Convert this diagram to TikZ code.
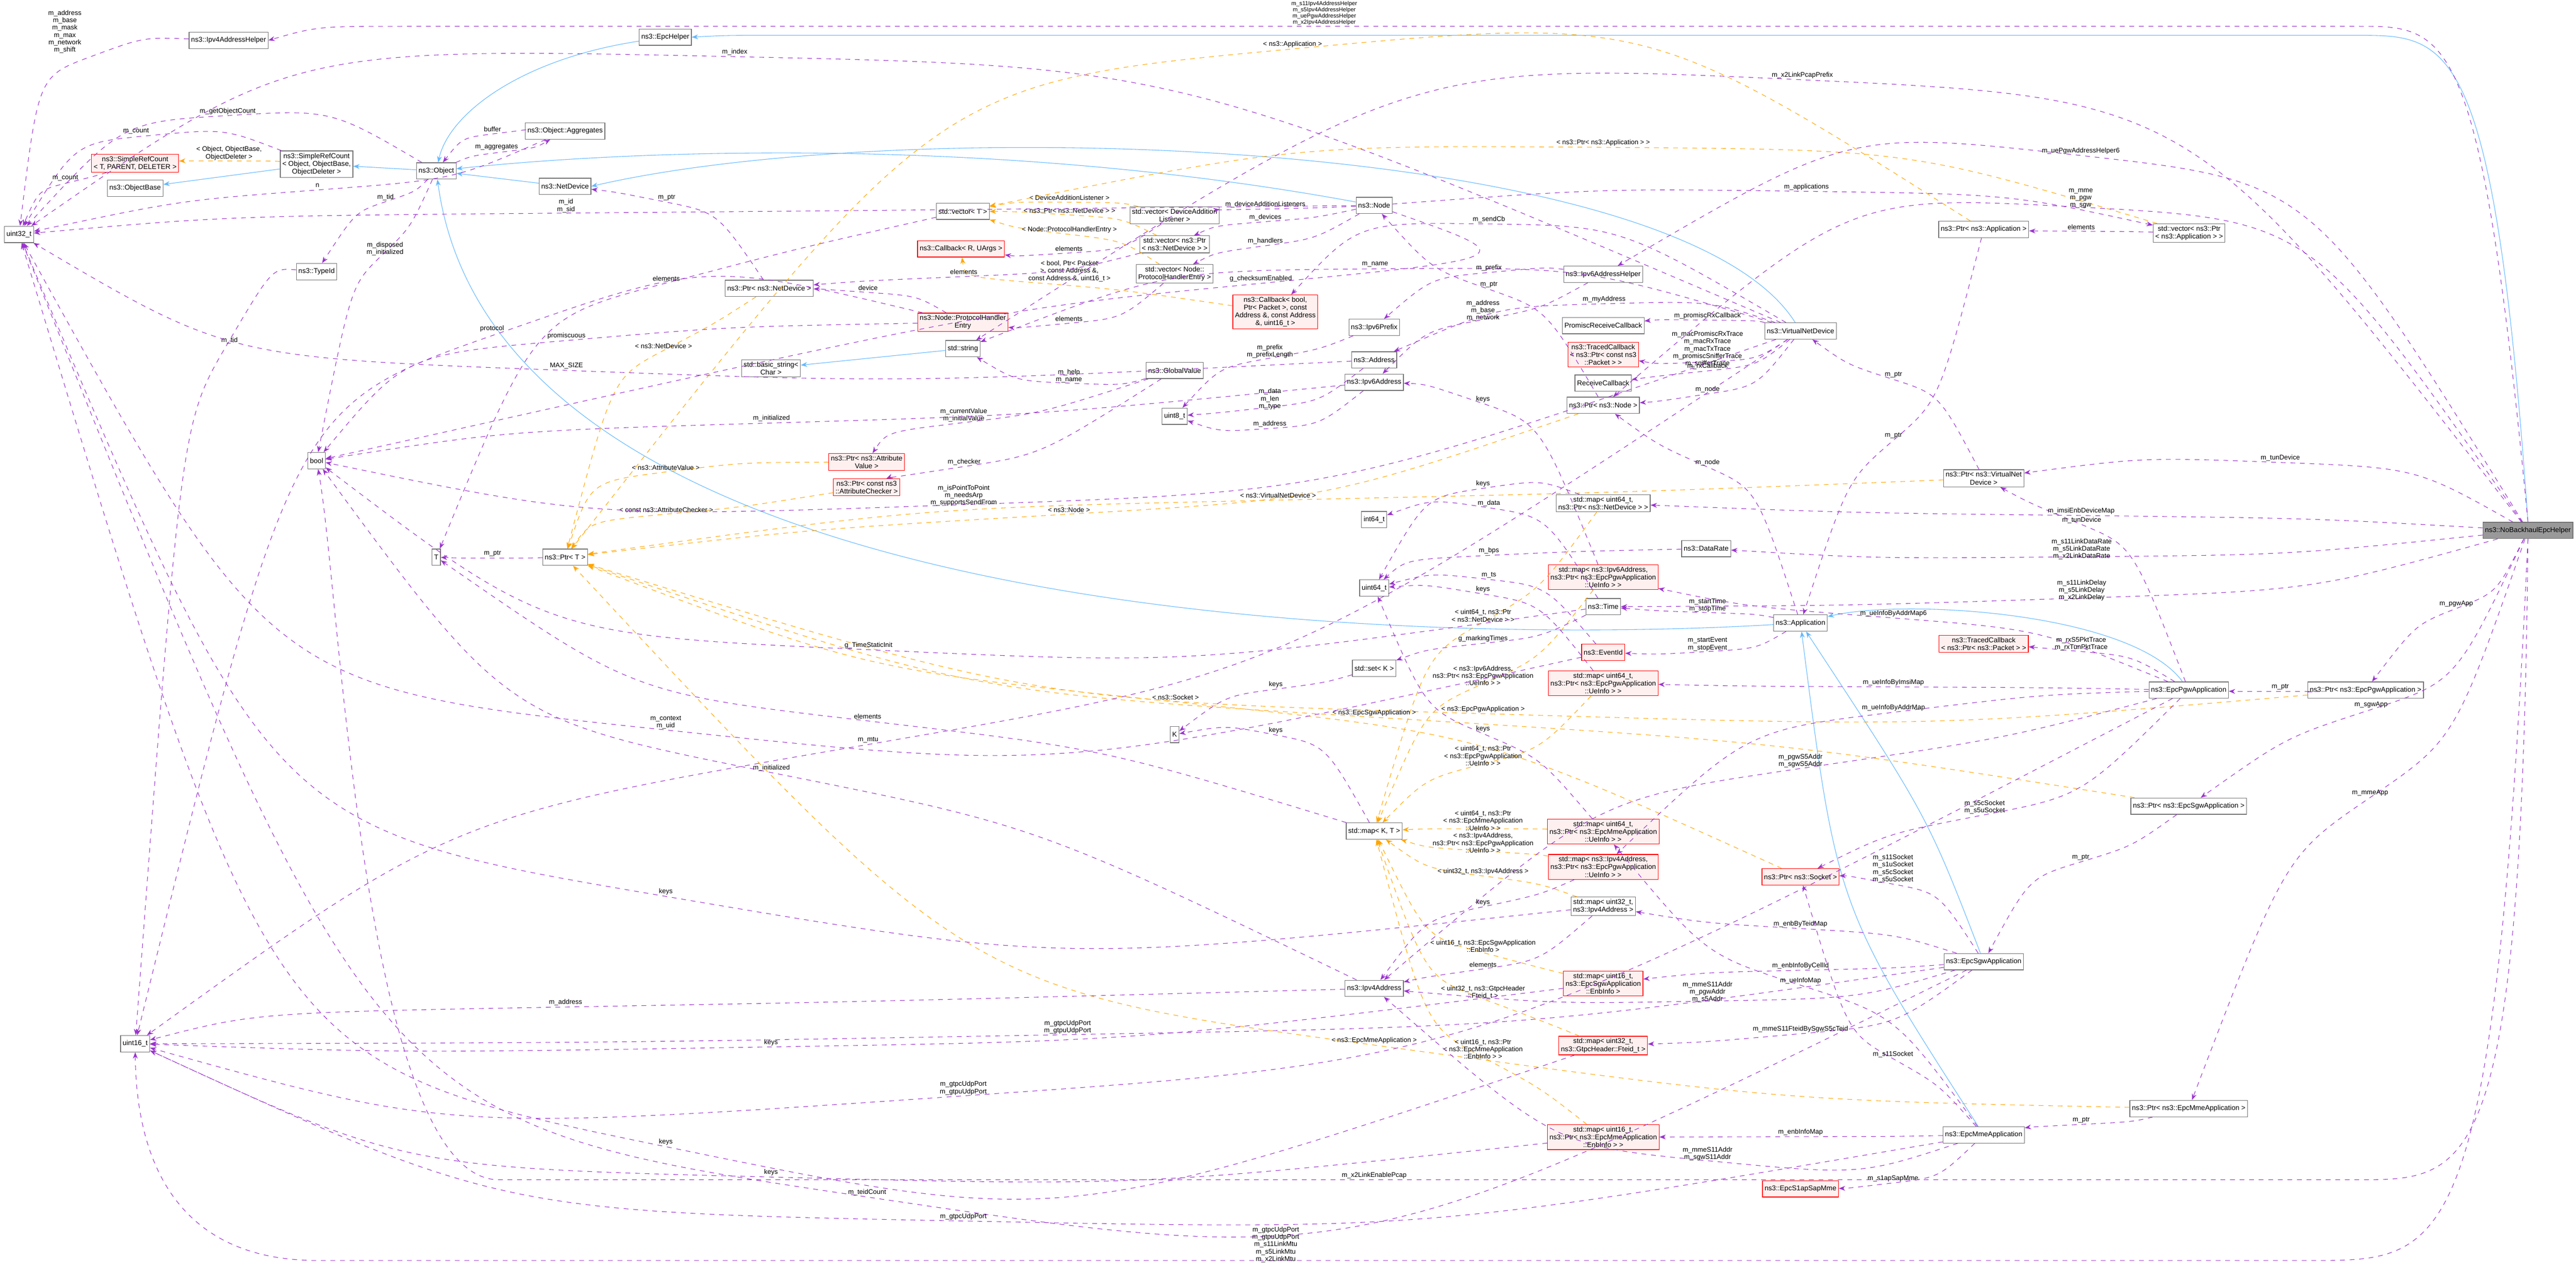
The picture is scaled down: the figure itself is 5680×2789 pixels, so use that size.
\documentclass[tikz,border=0pt]{standalone}
\usepackage{fontspec}
\setmainfont{Liberation Sans}
\usetikzlibrary{calc,arrows.meta}

\definecolor{memc}{HTML}{9A32CD}
\definecolor{inhc}{HTML}{63B8FF}
\definecolor{tmpc}{HTML}{FFA500}

\tikzset{
  cls/.style={draw=black!55, fill=white, align=center, inner sep=1.3pt,
    minimum height=0.36cm, font=\fontsize{4.4}{4.9}\selectfont},
  redcls/.style={cls, draw=red, fill=red!6},
  maincls/.style={cls, fill=black!40},
  lbl/.style={align=center, inner sep=0pt, font=\fontsize{4.2}{4.6}\selectfont},
  mem/.style={-{Stealth[length=4pt,width=3pt]}, draw=memc, dashed, line width=0.35pt},
  inh/.style={-{Stealth[length=4pt,width=3pt]}, draw=inhc, line width=0.35pt},
  tmpl/.style={-{Stealth[length=4pt,width=3pt]}, draw=tmpc, dashed, line width=0.35pt}
}

% link from #2 to #4 through #3, label #6 at #5
\newcommand{\lnk}[6]{%
  \draw[#1] let \p1=($(#4)-(#2)$) in
    (#2) .. controls ($(#3)-(0.25*\x1,0.1*\y1)$) .. (#3)
    .. controls ($(#3)+(0.25*\x1,0.1*\y1)$) .. (#4);
  \node[lbl] at (#5) {#6};}

\begin{document}
\begin{tikzpicture}[x=0.01cm, y=-0.01cm]
\useasboundingbox (0,0) rectangle (5680,2789);

% Nodes
\node (u32) [cls] at (42,517) {uint32\_t};
\node (ipv4h) [cls] at (504,89) {ns3::Ipv4AddressHelper};
\node (srcT) [redcls] at (298,360) {ns3::SimpleRefCount\\< T, PARENT, DELETER >};
\node (objbase) [cls] at (298,415) {ns3::ObjectBase};
\node (srcObj) [cls] at (698,362) {ns3::SimpleRefCount\\< Object, ObjectBase,\\ObjectDeleter >};
\node (object) [cls] at (962,377) {ns3::Object};
\node (aggr) [cls] at (1246,289) {ns3::Object::Aggregates};
\node (netdev) [cls] at (1246,411) {ns3::NetDevice};
\node (typeid) [cls] at (698,599) {ns3::TypeId};
\node (epch) [cls] at (1467,82) {ns3::EpcHelper};
\node (vecT) [cls] at (2123,466) {std::vector< T >};
\node (vecDAL) [cls] at (2590,475) {std::vector< DeviceAddition\\Listener >};
\node (vecPND) [cls] at (2590,539) {std::vector< ns3::Ptr\\< ns3::NetDevice > >};
\node (vecPHE) [cls] at (2590,604) {std::vector< Node::\\ProtocolHandlerEntry >};
\node (cbR) [redcls] at (2119,549) {ns3::Callback< R, UArgs >};
\node (ptrND) [cls] at (1696,636) {ns3::Ptr< ns3::NetDevice >};
\node (phe) [redcls] at (2123,711) {ns3::Node::ProtocolHandler\\Entry};
\node (str) [cls] at (2123,769) {std::string};
\node (bstr) [cls] at (1700,812) {std::basic\_string<\\Char >};
\node (gv) [cls] at (2590,817) {ns3::GlobalValue};
\node (u8) [cls] at (2590,918) {uint8\_t};
\node (ptrAV) [redcls] at (1911,1019) {ns3::Ptr< ns3::Attribute\\Value >};
\node (ptrAC) [redcls] at (1911,1075) {ns3::Ptr< const ns3\\::AttributeChecker >};
\node (node) [cls] at (3030,453) {ns3::Node};
\node (cbB) [redcls] at (2812,688) {ns3::Callback< bool,\\Ptr< Packet >, const\\Address \&, const Address\\\&, uint16\_t >};
\node (ipv6h) [cls] at (3535,605) {ns3::Ipv6AddressHelper};
\node (ipv6p) [cls] at (3030,722) {ns3::Ipv6Prefix};
\node (addr) [cls] at (3030,794) {ns3::Address};
\node (ipv6a) [cls] at (3030,843) {ns3::Ipv6Address};
\node (prcb) [cls] at (3535,718) {PromiscReceiveCallback};
\node (tcbC) [redcls] at (3535,782) {ns3::TracedCallback\\< ns3::Ptr< const ns3\\::Packet > >};
\node (rcb) [cls] at (3535,845) {ReceiveCallback};
\node (ptrNode) [cls] at (3535,894) {ns3::Ptr< ns3::Node >};
\node (vnd) [cls] at (3970,730) {ns3::VirtualNetDevice};
\node (mapND) [cls] at (3535,1110) {std::map< uint64\_t,\\ns3::Ptr< ns3::NetDevice > >};
\node (i64) [cls] at (3030,1146) {int64\_t};
\node (dr) [cls] at (3762,1210) {ns3::DataRate};
\node (mapV6) [redcls] at (3535,1273) {std::map< ns3::Ipv6Address,\\ns3::Ptr< ns3::EpcPgwApplication\\::UeInfo > >};
\node (u64) [cls] at (3030,1297) {uint64\_t};
\node (time) [cls] at (3535,1338) {ns3::Time};
\node (app) [cls] at (3970,1374) {ns3::Application};
\node (ev) [redcls] at (3535,1439) {ns3::EventId};
\node (setK) [cls] at (3030,1474) {std::set< K >};
\node (mapPgwI) [redcls] at (3535,1507) {std::map< uint64\_t,\\ns3::Ptr< ns3::EpcPgwApplication\\::UeInfo > >};
\node (K) [cls] at (2590,1620) {K};
\node (bool) [cls] at (698,1016) {bool};
\node (T) [cls] at (962,1229) {T};
\node (ptrT) [cls] at (1246,1229) {ns3::Ptr< T >};
\node (mapKT) [cls] at (3030,1833) {std::map< K, T >};
\node (mapMmeU) [redcls] at (3535,1834) {std::map< uint64\_t,\\ns3::Ptr< ns3::EpcMmeApplication\\::UeInfo > >};
\node (mapV4) [redcls] at (3535,1912) {std::map< ns3::Ipv4Address,\\ns3::Ptr< ns3::EpcPgwApplication\\::UeInfo > >};
\node (ptrSock) [redcls] at (3970,1934) {ns3::Ptr< ns3::Socket >};
\node (mapU32) [cls] at (3535,1999) {std::map< uint32\_t,\\ns3::Ipv4Address >};
\node (mapSgwE) [redcls] at (3535,2169) {std::map< uint16\_t,\\ns3::EpcSgwApplication\\::EnbInfo >};
\node (ipv4a) [cls] at (3030,2180) {ns3::Ipv4Address};
\node (mapFteid) [redcls] at (3535,2306) {std::map< uint32\_t,\\ns3::GtpcHeader::Fteid\_t >};
\node (mapMmeE) [redcls] at (3535,2508) {std::map< uint16\_t,\\ns3::Ptr< ns3::EpcMmeApplication\\::EnbInfo > >};
\node (s1ap) [redcls] at (3970,2622) {ns3::EpcS1apSapMme};
\node (u16) [cls] at (298,2302) {uint16\_t};
\node (ptrApp) [cls] at (4374,506) {ns3::Ptr< ns3::Application >};
\node (vecApp) [cls] at (4827,514) {std::vector< ns3::Ptr\\< ns3::Application > >};
\node (ptrVND) [cls] at (4374,1055) {ns3::Ptr< ns3::VirtualNet\\Device >};
\node (nbh) [maincls] at (5574,1170) {ns3::NoBackhaulEpcHelper};
\node (tcbP) [redcls] at (4374,1420) {ns3::TracedCallback\\< ns3::Ptr< ns3::Packet > >};
\node (pgw) [cls] at (4826,1522) {ns3::EpcPgwApplication};
\node (ptrPgw) [cls] at (5216,1522) {ns3::Ptr< ns3::EpcPgwApplication >};
\node (ptrSgw) [cls] at (4826,1778) {ns3::Ptr< ns3::EpcSgwApplication >};
\node (sgw) [cls] at (4374,2121) {ns3::EpcSgwApplication};
\node (ptrMme) [cls] at (4826,2445) {ns3::Ptr< ns3::EpcMmeApplication >};
\node (mme) [cls] at (4374,2503) {ns3::EpcMmeApplication};

% Inheritance
\draw[inh] (srcObj) -- (objbase);
\draw[inh] (object) -- (srcObj);
\draw[inh] (netdev) -- (object);
\draw[inh] (node) .. controls (2200,300) and (1400,330) .. (object);
\draw[inh] (vnd) .. controls (3700,300) and (2000,250) .. (netdev.east);
\draw[inh] (epch) .. controls (1150,130) and (990,250) .. (object);
\draw[inh] (nbh.north) .. controls (5500,80) and (5400,78) .. (5200,78) -- (1700,78) .. controls (1600,78) .. (epch.east);
\draw[inh] (app) .. controls (3200,1420) and (1100,1400) .. (object);
\draw[inh] (pgw) .. controls (4700,1350) and (4200,1320) .. (app);
\draw[inh] (sgw) .. controls (4250,1800) .. (app);
\draw[inh] (mme) .. controls (4050,2000) .. (app);
\draw[inh] (str) -- (bstr);

% Templates
\lnk{tmpl}{srcObj}{505,355}{srcT}{505,338}{< Object, ObjectBase,\\ObjectDeleter >}
\lnk{tmpl}{vecDAL}{2358,446}{vecT}{2358,436}{< DeviceAdditionListener >}
\lnk{tmpl}{vecPND}{2358,474}{vecT}{2358,464}{< ns3::Ptr< ns3::NetDevice > >}
\lnk{tmpl}{vecPHE}{2358,517}{vecT}{2358,507}{< Node::ProtocolHandlerEntry >}
\lnk{tmpl}{cbB}{2300,625}{cbR}{2358,598}{< bool, Ptr< Packet\\>, const Address \&,\\const Address \&, uint16\_t >}
\lnk{tmpl}{ptrND}{1463,773}{ptrT}{1463,763}{< ns3::NetDevice >}
\lnk{tmpl}{ptrAV}{1468,1041}{ptrT}{1468,1031}{< ns3::AttributeValue >}
\lnk{tmpl}{ptrAC}{1469,1134}{ptrT}{1469,1124}{< const ns3::AttributeChecker >}
\lnk{tmpl}{ptrNode}{2357,1134}{ptrT}{2357,1124}{< ns3::Node >}
\lnk{tmpl}{ptrVND}{2818,1103}{ptrT}{2818,1093}{< ns3::VirtualNetDevice >}
\lnk{tmpl}{ptrSock}{2592,1548}{ptrT}{2592,1538}{< ns3::Socket >}
\lnk{tmpl}{ptrPgw}{3270,1574}{ptrT}{3270,1564}{< ns3::EpcPgwApplication >}
\lnk{tmpl}{ptrSgw}{3030,1582}{ptrT}{3030,1572}{< ns3::EpcSgwApplication >}
\lnk{tmpl}{ptrMme}{3030,2305}{ptrT}{3030,2295}{< ns3::EpcMmeApplication >}
\lnk{tmpl}{ptrApp}{2850,108}{ptrT}{2850,98}{< ns3::Application >}
\lnk{tmpl}{vecApp}{3535,325}{vecT}{3535,315}{< ns3::Ptr< ns3::Application > >}
\lnk{tmpl}{mapND}{3270,1372}{mapKT}{3270,1358}{< uint64\_t, ns3::Ptr\\< ns3::NetDevice > >}
\lnk{tmpl}{mapV6}{3270,1508}{mapKT}{3270,1490}{< ns3::Ipv6Address,\\ns3::Ptr< ns3::EpcPgwApplication\\::UeInfo > >}
\lnk{tmpl}{mapPgwI}{3270,1685}{mapKT}{3270,1667}{< uint64\_t, ns3::Ptr\\< ns3::EpcPgwApplication\\::UeInfo > >}
\lnk{tmpl}{mapMmeU}{3270,1828}{mapKT}{3270,1810}{< uint64\_t, ns3::Ptr\\< ns3::EpcMmeApplication\\::UeInfo > >}
\lnk{tmpl}{mapV4}{3270,1877}{mapKT}{3270,1859}{< ns3::Ipv4Address,\\ns3::Ptr< ns3::EpcPgwApplication\\::UeInfo > >}
\lnk{tmpl}{mapU32}{3270,1932}{mapKT}{3270,1922}{< uint32\_t, ns3::Ipv4Address >}
\lnk{tmpl}{mapSgwE}{3270,2101}{mapKT}{3270,2087}{< uint16\_t, ns3::EpcSgwApplication\\::EnbInfo >}
\lnk{tmpl}{mapFteid}{3270,2203}{mapKT}{3270,2189}{< uint32\_t, ns3::GtpcHeader\\::Fteid\_t >}
\lnk{tmpl}{mapMmeE}{3270,2332}{mapKT}{3270,2314}{< uint16\_t, ns3::Ptr\\< ns3::EpcMmeApplication\\::EnbInfo > >}

% Members, left part
\lnk{mem}{ipv4h}{200,125}{u32}{143,70}{m\_address\\m\_base\\m\_mask\\m\_max\\m\_network\\m\_shift}
\lnk{mem}{object}{500,255}{u32}{502,245}{m\_getObjectCount}
\lnk{mem}{srcObj}{330,299}{u32}{300,289}{m\_count}
\lnk{mem}{srcT}{150,403}{u32}{144,393}{m\_count}
\lnk{mem}{aggr}{1090,295}{object}{1086,285}{buffer}
\lnk{mem}{object}{1110,335}{aggr}{1095,325}{m\_aggregates}
\lnk{mem}{aggr}{700,419}{u32}{700,409}{n}
\lnk{mem}{node}{1250,470}{u32}{1248,454}{m\_id\\m\_sid}
\lnk{mem}{object}{850,445}{typeid}{850,435}{m\_tid}
\lnk{mem}{object}{840,565}{bool}{849,549}{m\_disposed\\m\_initialized}
\lnk{mem}{typeid}{500,761}{u16}{506,751}{m\_tid}
\lnk{mem}{phe}{1100,735}{u16}{1085,725}{protocol}
\lnk{mem}{phe}{1250,751}{bool}{1249,741}{promiscuous}
\lnk{mem}{addr}{1250,817}{u32}{1249,807}{MAX\_SIZE}
\lnk{mem}{vnd}{1620,125}{u32}{1620,115}{m\_index}
\lnk{mem}{ptrND}{1470,446}{netdev}{1470,436}{m\_ptr}
\lnk{mem}{vecT}{1470,624}{T}{1469,614}{elements}
\lnk{mem}{vecPND}{2125,610}{ptrND}{2125,600}{elements}
\lnk{mem}{phe}{1915,645}{ptrND}{1914,635}{device}
\lnk{mem}{vecDAL}{2357,558}{cbR}{2357,548}{elements}
\lnk{mem}{vecPHE}{2357,713}{phe}{2357,703}{elements}
\lnk{mem}{node}{2790,461}{vecDAL}{2790,451}{m\_deviceAdditionListeners}
\lnk{mem}{node}{2790,489}{vecPND}{2790,479}{m\_devices}
\lnk{mem}{node}{2790,542}{vecPHE}{2790,532}{m\_handlers}
\lnk{mem}{node}{2780,625}{bool}{2780,615}{g\_checksumEnabled}
\lnk{mem}{gv}{2357,845}{str}{2357,829}{m\_help\\m\_name}
\lnk{mem}{gv}{2125,932}{ptrAV}{2125,916}{m\_currentValue\\m\_initialValue}
\lnk{mem}{gv}{2126,1029}{ptrAC}{2126,1019}{m\_checker}
\lnk{mem}{ptrT}{1086,1231}{T}{1086,1221}{m\_ptr}
\lnk{mem}{ipv6a}{1701,933}{bool}{1701,923}{m\_initialized}
\lnk{mem}{ipv4a}{1701,1704}{bool}{1701,1694}{m\_initialized}

% Members, middle part
\lnk{mem}{vnd}{3283,494}{cbB}{3283,484}{m\_sendCb}
\lnk{mem}{vnd}{3032,593}{str}{3032,583}{m\_name}
\lnk{mem}{ipv6h}{3283,601}{ipv6p}{3283,591}{m\_prefix}
\lnk{mem}{ptrNode}{3283,638}{node}{3283,628}{m\_ptr}
\lnk{mem}{ipv6h}{3270,705}{ipv6a}{3270,685}{m\_address\\m\_base\\m\_network}
\lnk{mem}{vnd}{3537,670}{addr}{3537,660}{m\_myAddress}
\lnk{mem}{vnd}{3765,706}{prcb}{3765,696}{m\_promiscRxCallback}
\lnk{mem}{vnd}{3765,798}{tcbC}{3765,770}{m\_macPromiscRxTrace\\m\_macRxTrace\\m\_macTxTrace\\m\_promiscSnifferTrace\\m\_snifferTrace}
\lnk{mem}{vnd}{3765,818}{rcb}{3765,808}{m\_rxCallback}
\lnk{mem}{vnd}{3765,869}{ptrNode}{3765,859}{m\_node}
\lnk{mem}{vnd}{2125,1113}{bool}{2125,1093}{m\_isPointToPoint\\m\_needsArp\\m\_supportsSendFrom}
\lnk{mem}{vnd}{1914,1642}{u16}{1914,1632}{m\_mtu}
\lnk{mem}{ipv6p}{2800,790}{u8}{2800,775}{m\_prefix\\m\_prefixLength}
\lnk{mem}{addr}{2800,898}{u8}{2800,880}{m\_data\\m\_len\\m\_type}
\lnk{mem}{ipv6a}{2800,945}{u8}{2800,935}{m\_address}
\lnk{mem}{app}{3765,1030}{ptrNode}{3765,1020}{m\_node}
\lnk{mem}{app}{3765,1351}{time}{3765,1335}{m\_startTime\\m\_stopTime}
\lnk{mem}{app}{3765,1437}{ev}{3765,1421}{m\_startEvent\\m\_stopEvent}
\lnk{mem}{ev}{3283,1278}{u64}{3283,1268}{m\_ts}
\lnk{mem}{dr}{3283,1225}{u64}{3283,1215}{m\_bps}
\lnk{mem}{time}{3283,1120}{i64}{3283,1110}{m\_data}
\lnk{mem}{time}{3270,1419}{setK}{3270,1409}{g\_markingTimes}
\lnk{mem}{time}{1915,1433}{bool}{1915,1423}{g\_TimeStaticInit}
\lnk{mem}{ev}{1468,1610}{u32}{1468,1593}{m\_context\\m\_uid}
\lnk{mem}{mapV6}{3270,890}{ipv6a}{3270,880}{keys}
\lnk{mem}{mapND}{3270,1077}{u64}{3270,1067}{keys}
\lnk{mem}{mapPgwI}{3270,1310}{u64}{3270,1300}{keys}
\lnk{mem}{setK}{2813,1520}{K}{2813,1510}{keys}
\lnk{mem}{mapKT}{2813,1621}{K}{2813,1611}{keys}
\lnk{mem}{mapMmeU}{3270,1618}{u64}{3270,1608}{keys}
\lnk{mem}{mapKT}{1913,1590}{T}{1913,1580}{elements}
\lnk{mem}{mapU32}{1468,1977}{u32}{1468,1967}{keys}
\lnk{mem}{mapV4}{3270,2000}{ipv4a}{3270,1990}{keys}
\lnk{mem}{mapU32}{3270,2137}{ipv4a}{3270,2127}{elements}
\lnk{mem}{ipv4a}{1247,2221}{u16}{1247,2211}{m\_address}
\lnk{mem}{mapSgwE}{1700,2309}{u16}{1700,2299}{keys}
\lnk{mem}{mapFteid}{1468,2529}{u32}{1468,2519}{keys}
\lnk{mem}{mapMmeE}{1700,2596}{u16}{1700,2586}{keys}

% Members, right part
\draw[mem] (nbh.north) .. controls (5470,60) and (5400,58) .. (5200,58) -- (900,58) .. controls (700,58) .. (ipv4h.east);
\node[lbl, font=\fontsize{3.6}{3.9}\selectfont] at (2920,29) {m\_s11Ipv4AddressHelper\\m\_s5Ipv4AddressHelper\\m\_uePgwAddressHelper\\m\_x2Ipv4AddressHelper};
\lnk{mem}{nbh}{3974,176}{str}{3974,166}{m\_x2LinkPcapPrefix}
\lnk{mem}{nbh}{4588,343}{ipv6h}{4588,333}{m\_uePgwAddressHelper6}
\lnk{mem}{nbh}{4588,457}{ptrNode}{4588,438}{m\_mme\\m\_pgw\\m\_sgw}
\lnk{mem}{node}{3983,422}{vecApp}{3983,412}{m\_applications}
\lnk{mem}{vecApp}{4589,510}{ptrApp}{4589,501}{elements}
\lnk{mem}{ptrVND}{4175,837}{vnd}{4175,827}{m\_ptr}
\lnk{mem}{ptrApp}{4175,971}{app}{4175,961}{m\_ptr}
\lnk{mem}{nbh}{5028,1020}{ptrVND}{5028,1010}{m\_tunDevice}
\lnk{mem}{pgw}{4590,1157}{ptrVND}{4590,1147}{m\_tunDevice}
\lnk{mem}{nbh}{4589,1137}{mapND}{4589,1127}{m\_imsiEnbDeviceMap}
\lnk{mem}{nbh}{4590,1228}{dr}{4590,1211}{m\_s11LinkDataRate\\m\_s5LinkDataRate\\m\_x2LinkDataRate}
\lnk{mem}{nbh}{4590,1319}{time}{4590,1302}{m\_s11LinkDelay\\m\_s5LinkDelay\\m\_x2LinkDelay}
\lnk{mem}{pgw}{4175,1363}{mapV6}{4175,1353}{m\_ueInfoByAddrMap6}
\lnk{mem}{pgw}{4589,1437}{tcbP}{4589,1420}{m\_rxS5PktTrace\\m\_rxTunPktTrace}
\lnk{mem}{pgw}{4175,1515}{mapPgwI}{4175,1505}{m\_ueInfoByImsiMap}
\lnk{mem}{pgw}{4175,1571}{mapV4}{4175,1561}{m\_ueInfoByAddrMap}
\lnk{mem}{pgw}{3970,1695}{ipv4a}{3970,1678}{m\_pgwS5Addr\\m\_sgwS5Addr}
\lnk{mem}{pgw}{4376,1797}{ptrSock}{4376,1780}{m\_s5cSocket\\m\_s5uSocket}
\lnk{mem}{ptrPgw}{5028,1525}{pgw}{5028,1515}{m\_ptr}
\lnk{mem}{nbh}{5416,1342}{ptrPgw}{5416,1332}{m\_pgwApp}
\lnk{mem}{nbh}{5228,1565}{ptrSgw}{5228,1555}{m\_sgwApp}
\lnk{mem}{nbh}{5226,1759}{ptrMme}{5226,1749}{m\_mmeApp}
\lnk{mem}{ptrSgw}{4588,1901}{sgw}{4588,1891}{m\_ptr}
\lnk{mem}{ptrMme}{4589,2480}{mme}{4589,2470}{m\_ptr}
\lnk{mem}{sgw}{4174,1950}{ptrSock}{4174,1916}{m\_s11Socket\\m\_s1uSocket\\m\_s5cSocket\\m\_s5uSocket}
\lnk{mem}{sgw}{3970,2048}{mapU32}{3970,2038}{m\_enbByTeidMap}
\lnk{mem}{sgw}{3970,2140}{mapSgwE}{3970,2130}{m\_enbInfoByCellId}
\lnk{mem}{mme}{3970,2173}{mapMmeU}{3970,2163}{m\_ueInfoMap}
\lnk{mem}{sgw}{3765,2208}{ipv4a}{3765,2188}{m\_mmeS11Addr\\m\_pgwAddr\\m\_s5Addr}
\lnk{mem}{sgw}{3970,2280}{mapFteid}{3970,2270}{m\_mmeS11FteidBySgwS5cTeid}
\lnk{mem}{mme}{4174,2335}{ptrSock}{4174,2325}{m\_s11Socket}
\lnk{mem}{mme}{3970,2507}{mapMmeE}{3970,2497}{m\_enbInfoMap}
\lnk{mem}{mme}{3765,2560}{ipv4a}{3765,2545}{m\_mmeS11Addr\\m\_sgwS11Addr}
\lnk{mem}{mme}{4174,2609}{s1ap}{4174,2599}{m\_s1apSapMme}
\lnk{mem}{sgw}{2354,2282}{u16}{2354,2265}{m\_gtpcUdpPort\\m\_gtpuUdpPort}
\lnk{mem}{pgw}{2124,2417}{u16}{2124,2400}{m\_gtpcUdpPort\\m\_gtpuUdpPort}
\lnk{mem}{sgw}{1912,2640}{u32}{1912,2630}{m\_teidCount}
\lnk{mem}{mme}{2124,2693}{u16}{2124,2683}{m\_gtpcUdpPort}
\draw[mem] (nbh.south) .. controls (5560,2600) and (5450,2602) .. (5200,2602) -- (1100,2602) .. controls (800,2602) and (750,1300) .. (bool);
\node[lbl] at (3030,2592) {m\_x2LinkEnablePcap};
\draw[mem] (nbh.south) .. controls (5500,2780) and (5400,2780) .. (5100,2780) -- (700,2780) .. controls (350,2780) and (300,2500) .. (u16);
\node[lbl] at (2813,2745) {m\_gtpcUdpPort\\m\_gtpuUdpPort\\m\_s11LinkMtu\\m\_s5LinkMtu\\m\_x2LinkMtu};

\end{tikzpicture}
\end{document}
